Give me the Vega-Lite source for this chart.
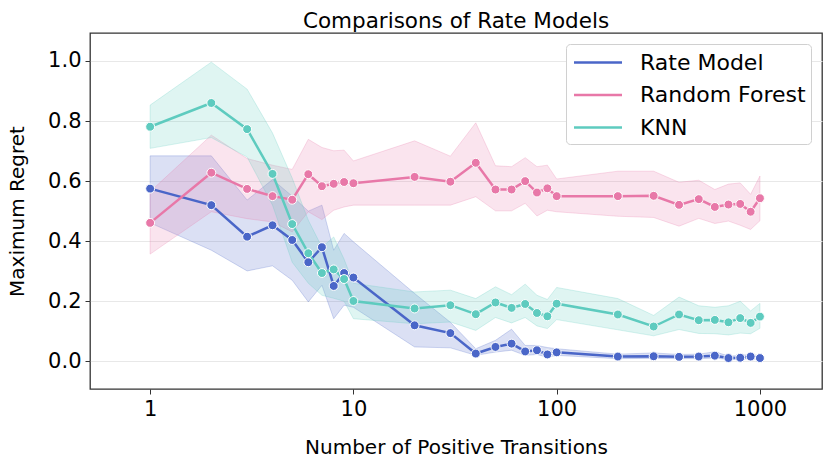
{
  "$schema": "https://vega.github.io/schema/vega-lite/v6.json",
  "width": 732,
  "height": 356,
  "autosize": {"type": "none"},
  "padding": {"left": 90, "top": 33, "right": 8, "bottom": 77},
  "background": "white",
  "title": {"text": "Comparisons of Rate Models", "fontSize": 21.5, "fontWeight": "normal", "offset": 1, "color": "black"},
  "data": {
    "values": [
      {"n": 1, "model": "Rate Model", "mean": 0.575, "lo": 0.461, "hi": 0.684},
      {"n": 2, "model": "Rate Model", "mean": 0.52, "lo": 0.37, "hi": 0.684},
      {"n": 3, "model": "Rate Model", "mean": 0.415, "lo": 0.301, "hi": 0.537},
      {"n": 4, "model": "Rate Model", "mean": 0.453, "lo": 0.318, "hi": 0.605},
      {"n": 5, "model": "Rate Model", "mean": 0.404, "lo": 0.27, "hi": 0.55},
      {"n": 6, "model": "Rate Model", "mean": 0.33, "lo": 0.198, "hi": 0.5},
      {"n": 7, "model": "Rate Model", "mean": 0.38, "lo": 0.253, "hi": 0.52},
      {"n": 8, "model": "Rate Model", "mean": 0.251, "lo": 0.142, "hi": 0.37},
      {"n": 9, "model": "Rate Model", "mean": 0.294, "lo": 0.187, "hi": 0.426},
      {"n": 10, "model": "Rate Model", "mean": 0.279, "lo": 0.18, "hi": 0.398},
      {"n": 20, "model": "Rate Model", "mean": 0.12, "lo": 0.048, "hi": 0.226},
      {"n": 30, "model": "Rate Model", "mean": 0.094, "lo": 0.045, "hi": 0.13},
      {"n": 40, "model": "Rate Model", "mean": 0.026, "lo": 0.02, "hi": 0.042},
      {"n": 50, "model": "Rate Model", "mean": 0.048, "lo": 0.031, "hi": 0.07},
      {"n": 60, "model": "Rate Model", "mean": 0.059, "lo": 0.037, "hi": 0.107},
      {"n": 70, "model": "Rate Model", "mean": 0.033, "lo": 0.02, "hi": 0.053},
      {"n": 80, "model": "Rate Model", "mean": 0.037, "lo": 0.023, "hi": 0.053},
      {"n": 90, "model": "Rate Model", "mean": 0.023, "lo": 0.014, "hi": 0.046},
      {"n": 100, "model": "Rate Model", "mean": 0.03, "lo": 0.02, "hi": 0.042},
      {"n": 200, "model": "Rate Model", "mean": 0.016, "lo": 0.009, "hi": 0.024},
      {"n": 300, "model": "Rate Model", "mean": 0.017, "lo": 0.01, "hi": 0.028},
      {"n": 400, "model": "Rate Model", "mean": 0.015, "lo": 0.009, "hi": 0.023},
      {"n": 500, "model": "Rate Model", "mean": 0.016, "lo": 0.009, "hi": 0.024},
      {"n": 600, "model": "Rate Model", "mean": 0.019, "lo": 0.011, "hi": 0.032},
      {"n": 700, "model": "Rate Model", "mean": 0.011, "lo": 0.006, "hi": 0.018},
      {"n": 800, "model": "Rate Model", "mean": 0.012, "lo": 0.007, "hi": 0.019},
      {"n": 900, "model": "Rate Model", "mean": 0.016, "lo": 0.009, "hi": 0.024},
      {"n": 1000, "model": "Rate Model", "mean": 0.011, "lo": 0.006, "hi": 0.018},
      {"n": 1, "model": "Random Forest", "mean": 0.461, "lo": 0.357, "hi": 0.565},
      {"n": 2, "model": "Random Forest", "mean": 0.628, "lo": 0.498, "hi": 0.753},
      {"n": 3, "model": "Random Forest", "mean": 0.574, "lo": 0.475, "hi": 0.675},
      {"n": 4, "model": "Random Forest", "mean": 0.55, "lo": 0.464, "hi": 0.653},
      {"n": 5, "model": "Random Forest", "mean": 0.538, "lo": 0.431, "hi": 0.639},
      {"n": 6, "model": "Random Forest", "mean": 0.623, "lo": 0.498, "hi": 0.739},
      {"n": 7, "model": "Random Forest", "mean": 0.583, "lo": 0.472, "hi": 0.712},
      {"n": 8, "model": "Random Forest", "mean": 0.591, "lo": 0.503, "hi": 0.701},
      {"n": 9, "model": "Random Forest", "mean": 0.597, "lo": 0.514, "hi": 0.703},
      {"n": 10, "model": "Random Forest", "mean": 0.593, "lo": 0.52, "hi": 0.667},
      {"n": 20, "model": "Random Forest", "mean": 0.614, "lo": 0.52, "hi": 0.734},
      {"n": 30, "model": "Random Forest", "mean": 0.598, "lo": 0.52, "hi": 0.683},
      {"n": 40, "model": "Random Forest", "mean": 0.661, "lo": 0.548, "hi": 0.794},
      {"n": 50, "model": "Random Forest", "mean": 0.572, "lo": 0.501, "hi": 0.651},
      {"n": 60, "model": "Random Forest", "mean": 0.572, "lo": 0.501, "hi": 0.648},
      {"n": 70, "model": "Random Forest", "mean": 0.6, "lo": 0.526, "hi": 0.678},
      {"n": 80, "model": "Random Forest", "mean": 0.562, "lo": 0.484, "hi": 0.648},
      {"n": 90, "model": "Random Forest", "mean": 0.576, "lo": 0.503, "hi": 0.653},
      {"n": 100, "model": "Random Forest", "mean": 0.55, "lo": 0.498, "hi": 0.607},
      {"n": 200, "model": "Random Forest", "mean": 0.55, "lo": 0.483, "hi": 0.633},
      {"n": 300, "model": "Random Forest", "mean": 0.551, "lo": 0.479, "hi": 0.633},
      {"n": 400, "model": "Random Forest", "mean": 0.521, "lo": 0.45, "hi": 0.596},
      {"n": 500, "model": "Random Forest", "mean": 0.54, "lo": 0.476, "hi": 0.603},
      {"n": 600, "model": "Random Forest", "mean": 0.514, "lo": 0.459, "hi": 0.572},
      {"n": 700, "model": "Random Forest", "mean": 0.522, "lo": 0.467, "hi": 0.59},
      {"n": 800, "model": "Random Forest", "mean": 0.524, "lo": 0.453, "hi": 0.594},
      {"n": 900, "model": "Random Forest", "mean": 0.498, "lo": 0.439, "hi": 0.556},
      {"n": 1000, "model": "Random Forest", "mean": 0.543, "lo": 0.468, "hi": 0.617},
      {"n": 1, "model": "KNN", "mean": 0.781, "lo": 0.709, "hi": 0.853},
      {"n": 2, "model": "KNN", "mean": 0.86, "lo": 0.745, "hi": 0.996},
      {"n": 3, "model": "KNN", "mean": 0.773, "lo": 0.68, "hi": 0.906},
      {"n": 4, "model": "KNN", "mean": 0.624, "lo": 0.52, "hi": 0.76},
      {"n": 5, "model": "KNN", "mean": 0.457, "lo": 0.33, "hi": 0.61},
      {"n": 6, "model": "KNN", "mean": 0.36, "lo": 0.26, "hi": 0.47},
      {"n": 7, "model": "KNN", "mean": 0.294, "lo": 0.22, "hi": 0.38},
      {"n": 8, "model": "KNN", "mean": 0.306, "lo": 0.21, "hi": 0.414},
      {"n": 9, "model": "KNN", "mean": 0.274, "lo": 0.2, "hi": 0.34},
      {"n": 10, "model": "KNN", "mean": 0.201, "lo": 0.142, "hi": 0.26},
      {"n": 20, "model": "KNN", "mean": 0.176, "lo": 0.125, "hi": 0.231},
      {"n": 30, "model": "KNN", "mean": 0.187, "lo": 0.131, "hi": 0.237},
      {"n": 40, "model": "KNN", "mean": 0.157, "lo": 0.103, "hi": 0.209},
      {"n": 50, "model": "KNN", "mean": 0.196, "lo": 0.146, "hi": 0.248},
      {"n": 60, "model": "KNN", "mean": 0.178, "lo": 0.128, "hi": 0.222},
      {"n": 70, "model": "KNN", "mean": 0.191, "lo": 0.146, "hi": 0.257},
      {"n": 80, "model": "KNN", "mean": 0.161, "lo": 0.118, "hi": 0.22},
      {"n": 90, "model": "KNN", "mean": 0.15, "lo": 0.109, "hi": 0.206},
      {"n": 100, "model": "KNN", "mean": 0.192, "lo": 0.139, "hi": 0.246},
      {"n": 200, "model": "KNN", "mean": 0.156, "lo": 0.105, "hi": 0.209},
      {"n": 300, "model": "KNN", "mean": 0.116, "lo": 0.085, "hi": 0.153},
      {"n": 400, "model": "KNN", "mean": 0.156, "lo": 0.106, "hi": 0.214},
      {"n": 500, "model": "KNN", "mean": 0.137, "lo": 0.093, "hi": 0.185},
      {"n": 600, "model": "KNN", "mean": 0.138, "lo": 0.092, "hi": 0.18},
      {"n": 700, "model": "KNN", "mean": 0.13, "lo": 0.088, "hi": 0.185},
      {"n": 800, "model": "KNN", "mean": 0.144, "lo": 0.094, "hi": 0.2},
      {"n": 900, "model": "KNN", "mean": 0.128, "lo": 0.092, "hi": 0.168},
      {"n": 1000, "model": "KNN", "mean": 0.149, "lo": 0.11, "hi": 0.193}
    ]
  },
  "encoding": {
    "x": {
      "field": "n",
      "type": "quantitative",
      "scale": {"type": "log", "domain": [0.506, 2020], "nice": false},
      "axis": {"title": "Number of Positive Transitions", "values": [1, 10, 100, 1000], "format": "d", "grid": false, "labelPadding": 4, "titlePadding": 18}
    },
    "color": {
      "field": "model",
      "type": "nominal",
      "scale": {"domain": ["Rate Model", "Random Forest", "KNN"], "range": ["#4a66c8", "#e878a8", "#5ecbbf"]},
      "legend": {"title": null}
    }
  },
  "layer": [
    {
      "mark": {"type": "area", "fillOpacity": 0.2, "stroke": null},
      "encoding": {
        "y": {"field": "lo", "type": "quantitative"},
        "y2": {"field": "hi"},
        "stroke": {"field": "model", "type": "nominal", "legend": null, "scale": {"domain": ["Rate Model", "Random Forest", "KNN"], "range": ["#4a66c8", "#e878a8", "#5ecbbf"]}},
        "strokeOpacity": {"value": 0.25},
        "strokeWidth": {"value": 1}
      }
    },
    {
      "mark": {"type": "line", "strokeWidth": 2.5},
      "encoding": {
        "y": {
          "field": "mean",
          "type": "quantitative",
          "scale": {"domain": [-0.092, 1.093], "nice": false, "zero": false},
          "axis": {"title": "Maximum Regret", "values": [0, 0.2, 0.4, 0.6, 0.8, 1.0], "format": ".1f", "grid": true, "labelPadding": 4, "titlePadding": 20}
        }
      }
    },
    {
      "mark": {"type": "point", "filled": true, "size": 80, "stroke": "white", "strokeWidth": 1, "opacity": 1},
      "encoding": {
        "y": {"field": "mean", "type": "quantitative"}
      }
    }
  ],
  "config": {
    "font": "DejaVu Sans",
    "view": {"stroke": "#333", "strokeWidth": 1.3},
    "axis": {
      "domain": false,
      "labelFontSize": 21,
      "titleFontSize": 20,
      "titleFontWeight": "normal",
      "labelColor": "black",
      "titleColor": "black",
      "tickColor": "#333",
      "tickSize": 5,
      "gridColor": "#e8e8e8"
    },
    "legend": {
      "orient": "top-right",
      "offset": 11,
      "padding": 5,
      "strokeColor": "#d0d0d0",
      "fillColor": "white",
      "cornerRadius": 4,
      "labelFontSize": 22,
      "labelLimit": 400,
      "labelColor": "black",
      "symbolType": "M-2,0H2",
      "symbolSize": 576,
      "symbolOffset": 13.5,
      "symbolStrokeWidth": 2.5,
      "labelOffset": 28.5,
      "rowPadding": 7.5
    }
  }
}
